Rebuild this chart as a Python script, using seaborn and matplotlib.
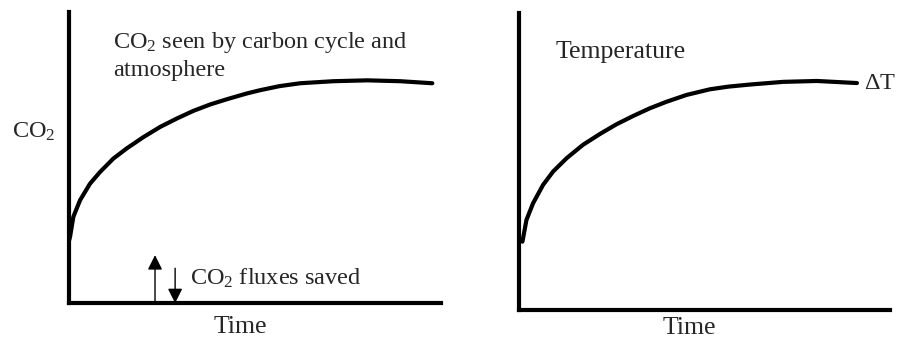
import numpy as np
import pandas as pd
import matplotlib
matplotlib.use("Agg")
import matplotlib.pyplot as plt
import seaborn as sns

# ------------------------------------------------------------
# values (axes run 0..100 in both panels)
# ------------------------------------------------------------
co2_time = [0, 0.27, 1.16, 2.96, 5.65, 8.33, 11.9, 15.5, 20.0, 24.5, 29.0, 33.4, 37.9,
            42.4, 47.8, 51.3, 56.5, 62.1, 71.0, 80.1, 89.0, 97.6]
co2_level = [21.5, 22.8, 29.7, 35.4, 41.1, 45.1, 49.7, 53.2, 57.1, 60.6, 63.5, 66.1, 68.3,
             70.1, 72.1, 73.2, 74.6, 75.6, 76.3, 76.6, 76.3, 75.6]

temp_time = [1.0, 2.08, 3.85, 6.55, 9.25, 12.9, 17.3, 21.8, 26.3, 30.8, 35.3, 39.8,
             45.2, 51.5, 56.5, 62.3, 71.2, 80.3, 91.1]
temp_level = [23.0, 30.3, 35.9, 42.1, 46.6, 51.1, 55.6, 59.2, 62.5, 65.3, 67.9, 70.1,
              72.4, 74.3, 75.2, 75.9, 76.8, 77.1, 76.4]

# flux arrows (time, start, end)
flux_up = (23.1, 0.0, 16.5)
flux_down = (28.5, 12.0, 0.0)

co2_df = pd.DataFrame({"time": co2_time, "value": co2_level})
temp_df = pd.DataFrame({"time": temp_time, "value": temp_level})

sns.set_style("white")
plt.rcParams["font.family"] = ["Liberation Serif", "DejaVu Serif"]
plt.rcParams["mathtext.fontset"] = "custom"
plt.rcParams["mathtext.rm"] = "Liberation Serif"
plt.rcParams["mathtext.it"] = "Liberation Serif:italic"

fig = plt.figure(figsize=(8.99, 3.41), dpi=100)
ax1 = fig.add_axes([0.0768, 0.111, 0.414, 0.853])
ax2 = fig.add_axes([0.577, 0.091, 0.413, 0.871])

fs = 17.5
fs_big = 18.5

for ax, df in [(ax1, co2_df), (ax2, temp_df)]:
    sns.lineplot(data=df, x="time", y="value", ax=ax, color="black", linewidth=3.0)
    ax.set_xlim(0, 100)
    ax.set_ylim(0, 100)
    ax.set_xticks([])
    ax.set_yticks([])
    ax.set_xlabel("Time", fontsize=fs_big, va="top")
    ax.set_ylabel("")
    for side in ["top", "right"]:
        ax.spines[side].set_visible(False)
    for side in ["left", "bottom"]:
        ax.spines[side].set_linewidth(3.0)
        ax.spines[side].set_color("black")
        ax.spines[side].set_capstyle("projecting")

ax1.xaxis.set_label_coords(0.46, -0.045)
ax2.xaxis.set_label_coords(0.46, -0.022)

# left panel texts
ax1.text(-15.3, 59, "CO$_2$", fontsize=fs, ha="left", va="center")
ax1.text(11.8, 94, "CO$_2$ seen by carbon cycle and\natmosphere", fontsize=fs,
         ha="left", va="top", linespacing=1.3)
ax1.annotate("", xy=(flux_up[0], flux_up[2]), xytext=(flux_up[0], flux_up[1]),
             arrowprops=dict(arrowstyle="-|>", color="black", lw=1.0,
                             mutation_scale=22, shrinkA=0, shrinkB=0))
ax1.annotate("", xy=(flux_down[0], flux_down[2]), xytext=(flux_down[0], flux_down[1]),
             arrowprops=dict(arrowstyle="-|>", color="black", lw=1.0,
                             mutation_scale=22, shrinkA=0, shrinkB=0))
ax1.text(32.5, 8.5, "CO$_2$ fluxes saved", fontsize=fs, ha="left", va="center")

# right panel texts
ax2.text(10.0, 87, "Temperature", fontsize=fs_big, ha="left", va="center")
ax2.text(93.0, 76.4, r"$\Delta$T", fontsize=fs, ha="left", va="center")

fig.savefig("out.png", dpi=100)
